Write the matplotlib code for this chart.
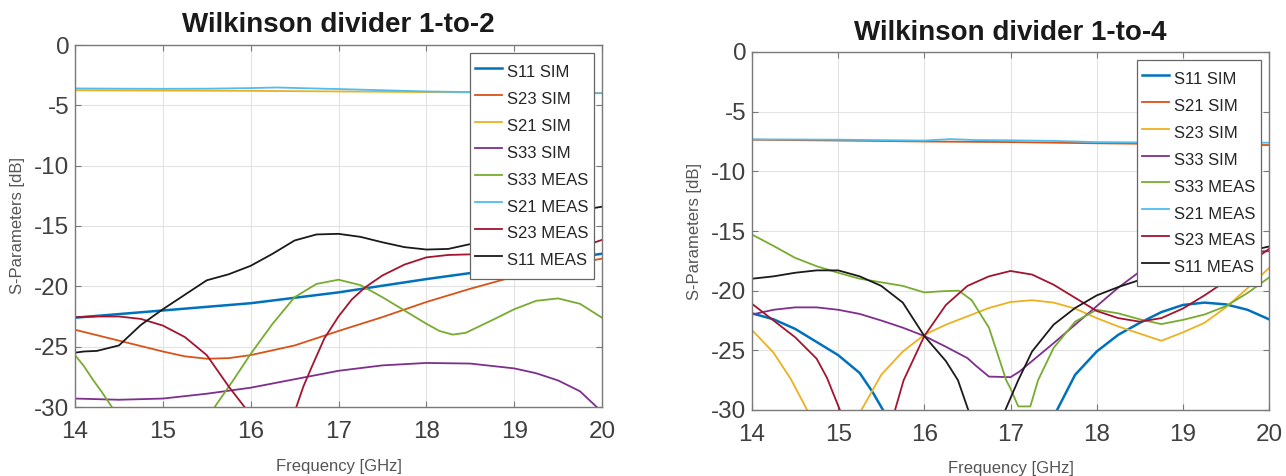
"""Wilkinson divider S-parameters: 1-to-2 and 1-to-4, simulation vs measurement."""

import numpy as np
import matplotlib

matplotlib.use("Agg")
import matplotlib.pyplot as plt

nan = np.nan

# ---- 1-to-2 divider ------------------------------------------------------
F2_S11_SIM = [14, 14.5, 15, 15.5, 16, 16.5, 17, 17.5, 18, 18.5, 19, 19.5, 20]
D2_S11_SIM = [-22.6, -22.3, -22.0, -21.7, -21.4, -20.95, -20.5, -19.95, -19.4, -18.9, -18.35, -17.8, -17.3]

F2_S23_SIM = [14, 14.5, 15, 15.25, 15.5, 15.75, 16, 16.5, 17, 17.5, 18, 18.5, 19, 19.5, 20]
D2_S23_SIM = [-23.6, -24.5, -25.4, -25.8, -26.0, -25.95, -25.7, -24.9, -23.7, -22.55, -21.3, -20.2, -19.2, -18.4, -17.7]

F2_S21_SIM = [14, 15, 16, 17, 18, 19, 20]
D2_S21_SIM = [-3.75, -3.78, -3.8, -3.85, -3.9, -3.95, -3.97]

F2_S33_SIM = [14, 14.5, 15, 15.5, 16, 16.5, 17, 17.5, 18, 18.5, 19, 19.25, 19.5, 19.75, 19.94, 20]
D2_S33_SIM = [-29.3, -29.4, -29.3, -28.9, -28.4, -27.7, -27.0, -26.55, -26.35, -26.4, -26.8, -27.2, -27.8, -28.7, -30.0, -30.4]

F2_S33_MEAS = [14, 14.1, 14.2, 14.3, 14.42, nan,
               15.59, 15.8, 16, 16.25, 16.5, 16.75, 17, 17.25, 17.5, 17.75, 18, 18.15, 18.3, 18.45,
               18.75, 19, 19.25, 19.5, 19.75, 20]
D2_S33_MEAS = [-25.7, -26.6, -27.7, -28.7, -30.0, nan,
               -30.0, -27.8, -25.6, -23.1, -20.9, -19.8, -19.45, -19.9, -20.9, -22.0, -23.1, -23.7, -24.0, -23.85,
               -22.8, -21.9, -21.2, -21.0, -21.45, -22.6]

F2_S21_MEAS = [14, 14.5, 15, 15.5, 16, 16.3, 16.6, 17, 17.5, 18, 18.5, 19, 19.5, 20]
D2_S21_MEAS = [-3.6, -3.62, -3.63, -3.62, -3.57, -3.52, -3.58, -3.65, -3.75, -3.85, -3.9, -3.95, -3.98, -4.0]

F2_S23_MEAS = [14, 14.25, 14.5, 14.75, 15, 15.25, 15.5, 15.75, 15.93, nan,
               16.52, 16.6, 16.7, 16.84, 17, 17.15, 17.3, 17.5, 17.75, 18, 18.25, 18.5,
               18.75, 19, 19.25, 19.5, 19.75, 19.9, 20]
D2_S23_MEAS = [-22.55, -22.5, -22.5, -22.7, -23.25, -24.2, -25.7, -28.3, -30.0, nan,
               -30.0, -28.3, -26.6, -24.3, -22.5, -21.1, -20.1, -19.1, -18.2, -17.6, -17.4, -17.35,
               -17.35, -17.25, -17.1, -16.9, -16.65, -16.4, -16.15]

F2_S11_MEAS = [14, 14.1, 14.25, 14.5, 14.75, 15, 15.25, 15.5, 15.75, 16, 16.25, 16.5, 16.75, 17,
               17.25, 17.5, 17.75, 18, 18.25, 18.5, 18.75, 19, 19.25, 19.5, 19.75, 20]
D2_S11_MEAS = [-25.5, -25.4, -25.35, -24.9, -23.2, -21.9, -20.7, -19.5, -19.0, -18.3, -17.3, -16.2, -15.7, -15.65,
               -15.9, -16.35, -16.75, -16.95, -16.9, -16.5, -16.0, -15.3, -14.7, -14.1, -13.7, -13.4]

# ---- 1-to-4 divider ------------------------------------------------------
F4_S11_SIM = [14, 14.25, 14.5, 14.75, 15, 15.25, 15.4, 15.52, nan,
              17.54, 17.75, 18, 18.25, 18.5, 18.75, 19, 19.25, 19.5, 19.75, 20]
D4_S11_SIM = [-21.9, -22.4, -23.2, -24.3, -25.4, -26.9, -28.5, -30.0, nan,
              -30.0, -27.05, -25.1, -23.7, -22.7, -21.8, -21.2, -21.0, -21.15, -21.6, -22.4]

F4_S21_SIM = [14, 15, 16, 17, 18, 19, 20]
D4_S21_SIM = [-7.35, -7.42, -7.5, -7.55, -7.65, -7.72, -7.8]

F4_S23_SIM = [14, 14.25, 14.45, 14.64, nan,
              15.27, 15.5, 15.75, 16, 16.25, 16.5, 16.75, 17, 17.25, 17.5, 17.75, 18, 18.25,
              18.5, 18.75, 19, 19.25, 19.5, 19.75, 20]
D4_S23_SIM = [-23.3, -25.2, -27.4, -30.0, nan,
              -30.0, -27.05, -25.1, -23.7, -22.85, -22.15, -21.45, -20.95, -20.8, -21.0, -21.5, -22.3, -23.0,
              -23.6, -24.2, -23.5, -22.7, -21.4, -19.8, -18.1]

F4_S33_SIM = [14, 14.25, 14.5, 14.75, 15, 15.25, 15.5, 15.75, 16, 16.25, 16.5, 16.6, 16.75, 17, 17.1,
              17.25, 17.5, 17.75, 18, 18.25, 18.5, 18.75, 19, 19.5, 20]
D4_S33_SIM = [-22.0, -21.6, -21.4, -21.4, -21.6, -21.95, -22.5, -23.1, -23.8, -24.7, -25.65, -26.3, -27.2, -27.25, -26.8,
              -25.9, -24.4, -22.85, -21.3, -19.75, -18.4, -17.5, -17.0, -16.7, -16.7]

F4_S33_MEAS = [14, 14.25, 14.5, 14.75, 15, 15.25, 15.5, 15.75, 16, 16.2, 16.4, 16.55, 16.75, 16.95, 17.0,
               17.09, 17.23, 17.32, 17.5, 17.75, 18, 18.25, 18.5, 18.75, 19, 19.25, 19.5, 19.75, 20]
D4_S33_MEAS = [-15.3, -16.25, -17.25, -17.95, -18.5, -19.0, -19.3, -19.6, -20.15, -20.05, -20.0, -20.8, -23.1, -27.5, -28.2,
               -29.7, -29.7, -27.5, -24.8, -22.6, -21.6, -21.9, -22.4, -22.8, -22.45, -22.0, -21.3, -20.2, -18.9]

F4_S21_MEAS = [14, 15, 16, 16.3, 16.6, 17, 17.5, 18, 19, 20]
D4_S21_MEAS = [-7.32, -7.35, -7.42, -7.3, -7.38, -7.4, -7.45, -7.55, -7.6, -7.6]

F4_S23_MEAS = [14, 14.25, 14.5, 14.75, 14.87, 15.02, nan,
               15.66, 15.76, 16, 16.25, 16.5, 16.75, 17, 17.25, 17.5, 17.75, 18, 18.25, 18.5,
               18.75, 19, 19.25, 19.5, 19.75, 20]
D4_S23_MEAS = [-21.1, -22.5, -23.9, -25.7, -27.3, -30.0, nan,
               -30.0, -27.5, -23.8, -21.2, -19.6, -18.8, -18.35, -18.65, -19.5, -20.6, -21.7, -22.3, -22.6,
               -22.3, -21.5, -20.4, -19.2, -17.8, -16.5]

F4_S11_MEAS = [14, 14.25, 14.5, 14.75, 15, 15.25, 15.5, 15.75, 16, 16.25, 16.39, 16.51, nan,
               16.94, 17.09, 17.25, 17.5, 17.75, 18, 18.25, 18.5, 18.75, 19, 19.5, 20]
D4_S11_MEAS = [-19.0, -18.8, -18.5, -18.3, -18.3, -18.8, -19.6, -21.0, -23.8, -25.9, -27.5, -30.0, nan,
               -30.0, -27.5, -25.1, -22.85, -21.45, -20.4, -19.7, -19.1, -18.4, -17.9, -17.1, -16.3]

# MATLAB default line colours
C_BLUE, C_ORANGE, C_YELLOW, C_PURPLE = "#0072BD", "#D95319", "#EDB120", "#7E2F8E"
C_GREEN, C_CYAN, C_RED, C_BLACK = "#77AC30", "#4DBEEE", "#A2142F", "#1a1a1a"

SERIES_1TO2 = [
    ("S11 SIM", C_BLUE, F2_S11_SIM, D2_S11_SIM),
    ("S23 SIM", C_ORANGE, F2_S23_SIM, D2_S23_SIM),
    ("S21 SIM", C_YELLOW, F2_S21_SIM, D2_S21_SIM),
    ("S33 SIM", C_PURPLE, F2_S33_SIM, D2_S33_SIM),
    ("S33 MEAS", C_GREEN, F2_S33_MEAS, D2_S33_MEAS),
    ("S21 MEAS", C_CYAN, F2_S21_MEAS, D2_S21_MEAS),
    ("S23 MEAS", C_RED, F2_S23_MEAS, D2_S23_MEAS),
    ("S11 MEAS", C_BLACK, F2_S11_MEAS, D2_S11_MEAS),
]
SERIES_1TO4 = [
    ("S11 SIM", C_BLUE, F4_S11_SIM, D4_S11_SIM),
    ("S21 SIM", C_ORANGE, F4_S21_SIM, D4_S21_SIM),
    ("S23 SIM", C_YELLOW, F4_S23_SIM, D4_S23_SIM),
    ("S33 SIM", C_PURPLE, F4_S33_SIM, D4_S33_SIM),
    ("S33 MEAS", C_GREEN, F4_S33_MEAS, D4_S33_MEAS),
    ("S21 MEAS", C_CYAN, F4_S21_MEAS, D4_S21_MEAS),
    ("S23 MEAS", C_RED, F4_S23_MEAS, D4_S23_MEAS),
    ("S11 MEAS", C_BLACK, F4_S11_MEAS, D4_S11_MEAS),
]

W, H = 1286, 476


def _draw(ax, series, title, box_px):
    left, top, right, bottom = box_px
    wpx, hpx = right - left, bottom - top
    for label, color, f, d in series:
        lw = 1.8 if label == "S11 SIM" else 1.3
        ax.plot(f, d, color=color, lw=lw, label=label)

    ax.set_xlim(14, 20)
    ax.set_ylim(-30, 0)
    ax.set_xticks(range(14, 21))
    ax.set_yticks(range(-30, 1, 5))
    ax.grid(True, color="#e3e3e3", lw=0.8)
    ax.set_axisbelow(True)
    for sp in ax.spines.values():
        sp.set_color("#7a7a7a")
        sp.set_linewidth(1.0)
    ax.tick_params(direction="in", top=True, right=True, length=4, width=0.8,
                   color="#7a7a7a", labelcolor="#404040", labelsize=17.5, pad=4)
    ax.tick_params(axis="x", pad=10)

    ax.set_title(title, fontsize=20, fontweight="bold", color="#1a1a1a", pad=9)
    ax.set_xlabel("Frequency [GHz]", fontsize=12, color="#555555")
    ax.set_ylabel("S-Parameters [dB]", fontsize=12, color="#555555")
    ax.xaxis.set_label_coords(0.5, -59 / hpx)
    ax.xaxis.label.set_va("center")
    ax.yaxis.set_label_coords(-57 / wpx, 0.5)
    ax.yaxis.label.set_va("center")

    # taller handle boxes give the ~27 px rows of the original legend
    leg = ax.legend(loc="upper right", fontsize=12, frameon=True, fancybox=False,
                    framealpha=1, edgecolor="#666666", borderaxespad=0.5,
                    handlelength=1.6, handleheight=2.1, handletextpad=0.3,
                    labelspacing=0.0, borderpad=0.32)
    leg.get_frame().set_linewidth(0.9)
    for t in leg.get_texts():
        t.set_color("#262626")


def main() -> None:
    plt.rcParams["font.family"] = ["Liberation Sans", "DejaVu Sans"]
    plt.rcParams["axes.unicode_minus"] = False

    fig = plt.figure(figsize=(W / 100, H / 100), dpi=100)
    boxes = [(75, 45, 602, 407), (752, 52, 1269, 410)]
    titles = ["Wilkinson divider 1-to-2", "Wilkinson divider 1-to-4"]
    for box, title, series in zip(boxes, titles, [SERIES_1TO2, SERIES_1TO4]):
        l, t, r, b = box
        ax = fig.add_axes([l / W, 1 - b / H, (r - l) / W, (b - t) / H])
        _draw(ax, series, title, box)

    fig.savefig("out.png", dpi=100)
    plt.close(fig)


if __name__ == "__main__":
    main()
